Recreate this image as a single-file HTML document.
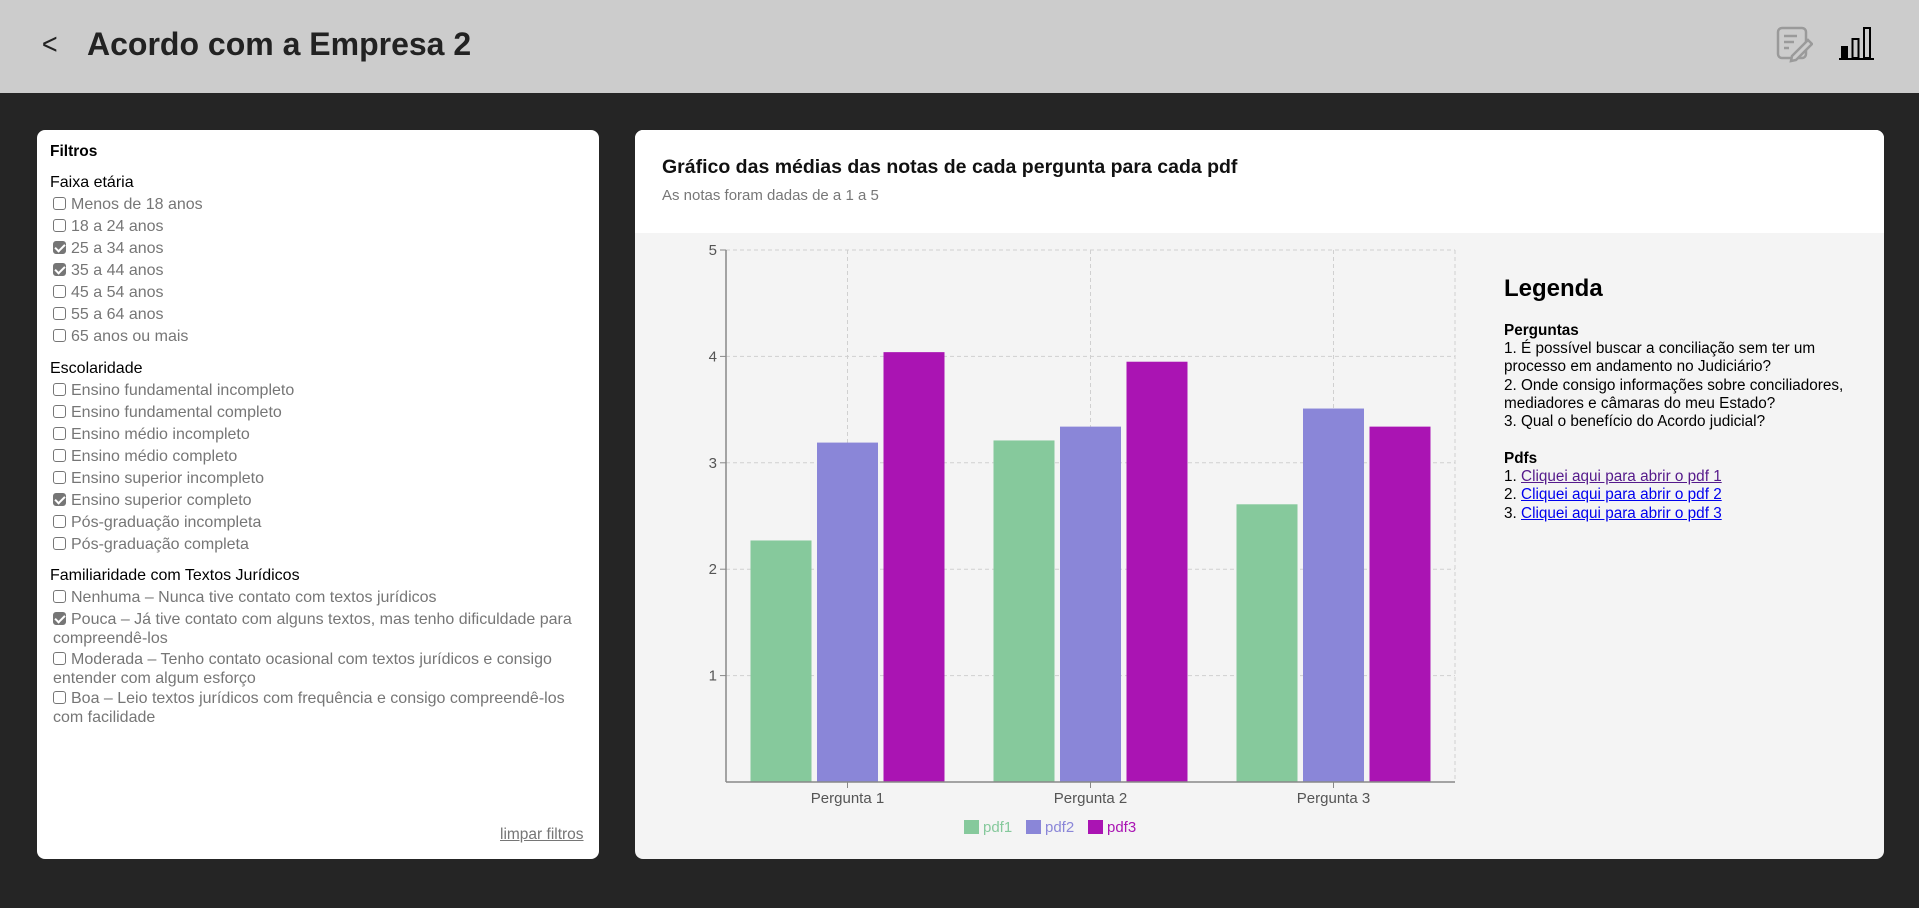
<!DOCTYPE html>
<html><head><meta charset="utf-8">
<style>
*{box-sizing:border-box;margin:0;padding:0}
body{width:1919px;height:908px;background:#252525;font-family:"Liberation Sans",Arial,sans-serif;position:relative;overflow:hidden}
.hdr{position:absolute;left:0;top:0;width:1919px;height:93px;background:#cccccc}
.abs{position:absolute;white-space:nowrap}
.panel{position:absolute;background:#fff;border-radius:8px;overflow:hidden}
.opt{position:absolute;left:53px;font-size:16px;color:#767676;line-height:20px;white-space:nowrap}
.opt .cb{display:inline-block;width:13px;height:13px;border:1px solid #767676;border-radius:3px;vertical-align:-1px;margin-right:5px;background:#fff;position:relative}
.opt .cb.on{background:#767676}
.opt .cb.on:after{content:"";position:absolute;left:3px;top:0px;width:4px;height:8px;border:solid #fff;border-width:0 2px 2px 0;transform:rotate(45deg)}
.grp{position:absolute;left:50px;font-size:16px;color:#000}
.leg{position:absolute;left:1504px;font-size:15.3px;line-height:18.2px;color:#000}
.leg a{color:#0000ee;text-decoration:underline}
</style></head><body>
<div class="hdr">
  <div class="abs" style="left:41px;top:28px;font-size:30px;color:#222;font-weight:300;transform:scaleX(0.9)">&lt;</div>
  <div class="abs" style="left:87px;top:26px;font-size:32px;font-weight:bold;color:#222;">Acordo com a Empresa 2</div>
  <svg class="abs" style="left:1775px;top:25px" width="38" height="38" viewBox="0 0 38 38">
    <rect x="3" y="3" width="28" height="30" rx="4" fill="none" stroke="#9a9a9a" stroke-width="2.5"/>
    <line x1="9" y1="11" x2="22" y2="11" stroke="#9a9a9a" stroke-width="2.5"/>
    <line x1="9" y1="17" x2="19" y2="17" stroke="#9a9a9a" stroke-width="2.5"/>
    <line x1="9" y1="23" x2="14" y2="23" stroke="#9a9a9a" stroke-width="2.5"/>
    <path d="M17 31 L33 15 L37 19 L21 35 L16 36 Z" fill="#cccccc" stroke="#9a9a9a" stroke-width="2.5"/>
  </svg>
  <svg class="abs" style="left:1839px;top:26px" width="36" height="36" viewBox="0 0 36 36">
    <rect x="2" y="20" width="7" height="12" fill="#000"/>
    <rect x="13.5" y="13" width="6" height="19" fill="none" stroke="#000" stroke-width="2"/>
    <rect x="25" y="2" width="6" height="30" fill="none" stroke="#000" stroke-width="2"/>
    <line x1="0" y1="33" x2="35" y2="33" stroke="#000" stroke-width="2"/>
  </svg>
</div>

<div class="panel" style="left:37px;top:130px;width:562px;height:729px;">
</div>
<div class="abs" style="left:50px;top:143px;font-size:15.5px;font-weight:bold;">Filtros</div>
<div class="grp" style="top:174px">Faixa etária</div>
<div class="opt" style="top:195px"><span class="cb"></span>Menos de 18 anos</div>
<div class="opt" style="top:217px"><span class="cb"></span>18 a 24 anos</div>
<div class="opt" style="top:239px"><span class="cb on"></span>25 a 34 anos</div>
<div class="opt" style="top:261px"><span class="cb on"></span>35 a 44 anos</div>
<div class="opt" style="top:283px"><span class="cb"></span>45 a 54 anos</div>
<div class="opt" style="top:305px"><span class="cb"></span>55 a 64 anos</div>
<div class="opt" style="top:327px"><span class="cb"></span>65 anos ou mais</div>
<div class="grp" style="top:360px">Escolaridade</div>
<div class="opt" style="top:381px"><span class="cb"></span>Ensino fundamental incompleto</div>
<div class="opt" style="top:403px"><span class="cb"></span>Ensino fundamental completo</div>
<div class="opt" style="top:425px"><span class="cb"></span>Ensino médio incompleto</div>
<div class="opt" style="top:447px"><span class="cb"></span>Ensino médio completo</div>
<div class="opt" style="top:469px"><span class="cb"></span>Ensino superior incompleto</div>
<div class="opt" style="top:491px"><span class="cb on"></span>Ensino superior completo</div>
<div class="opt" style="top:513px"><span class="cb"></span>Pós-graduação incompleta</div>
<div class="opt" style="top:535px"><span class="cb"></span>Pós-graduação completa</div>
<div class="grp" style="top:567px">Familiaridade com Textos Jurídicos</div>
<div class="opt" style="top:588px"><span class="cb"></span>Nenhuma – Nunca tive contato com textos jurídicos</div>
<div class="opt" style="top:610px;white-space:normal;width:530px;line-height:19px"><span class="cb on"></span>Pouca – Já tive contato com alguns textos, mas tenho dificuldade para compreendê-los</div>
<div class="opt" style="top:650px;white-space:normal;width:530px;line-height:19px"><span class="cb"></span>Moderada – Tenho contato ocasional com textos jurídicos e consigo entender com algum esforço</div>
<div class="opt" style="top:689px;white-space:normal;width:530px;line-height:19px"><span class="cb"></span>Boa – Leio textos jurídicos com frequência e consigo compreendê-los com facilidade</div>
<div class="abs" style="left:500px;top:826px;font-size:15.5px;color:#767676;text-decoration:underline">limpar filtros</div>

<div class="panel" style="left:635px;top:130px;width:1249px;height:729px;background:#f4f4f4;">
  <div style="position:absolute;left:0;top:0;width:100%;height:103px;background:#fff"></div>
</div>
<div class="abs" style="left:662px;top:156px;font-size:19.5px;font-weight:bold;color:#111">Gráfico das médias das notas de cada pergunta para cada pdf</div>
<div class="abs" style="left:662px;top:187px;font-size:15px;color:#777">As notas foram dadas de a 1 a 5</div>

<svg id="chart" class="abs" style="left:0;top:0" width="1919" height="908"></svg>

<div class="abs" style="left:1504px;top:275px;font-size:24px;font-weight:bold;">Legenda</div>
<div class="leg" style="top:322px;width:370px">
<b>Perguntas</b><br>
1. É possível buscar a conciliação sem ter um processo em andamento no Judiciário?<br>
2. Onde consigo informações sobre conciliadores, mediadores e câmaras do meu Estado?<br>
3. Qual o benefício do Acordo judicial?
</div>
<div class="leg" style="top:450px">
<b>Pdfs</b><br>
1. <a style="color:#551a8b">Cliquei aqui para abrir o pdf 1</a><br>
2. <a>Cliquei aqui para abrir o pdf 2</a><br>
3. <a>Cliquei aqui para abrir o pdf 3</a>
</div>

<script>
const categories = ["Pergunta 1","Pergunta 2","Pergunta 3"];
const seriesNames = ["pdf1","pdf2","pdf3"];
const pdf1 = [2.27, 3.21, 2.61];
const pdf2 = [3.19, 3.34, 3.51];
const pdf3 = [4.04, 3.95, 3.34];
const yTicks = [1,2,3,4,5];

const colors = ["#86c99c","#8a86d8","#aa14b3"];
const series = [pdf1, pdf2, pdf3];
const NS = "http://www.w3.org/2000/svg";
const svg = document.getElementById("chart");
const X0 = 726, X1 = 1455, Y0 = 782, Y1 = 250, YMAX = 5;
const band = (X1 - X0) / categories.length;
function y(v){ return Y0 - (v / YMAX) * (Y0 - Y1); }
function xc(i){ return X0 + band * (i + 0.5); }
function mk(tag, attrs){ const e = document.createElementNS(NS, tag); for (const k in attrs) e.setAttribute(k, attrs[k]); svg.appendChild(e); return e; }

yTicks.forEach(t => {
  const g = mk("line", {x1:X0, x2:X1, y1:y(t), y2:y(t), stroke:"#d0d0d0", "stroke-dasharray":"4 3"});
  
  
});
categories.forEach((c, i) => {
  const g = mk("line", {x1:xc(i), x2:xc(i), y1:Y1, y2:Y0, stroke:"#d0d0d0", "stroke-dasharray":"4 3"});
  
  
});
const rg = mk("line", {x1:X1, x2:X1, y1:Y1, y2:Y0, stroke:"#d0d0d0", "stroke-dasharray":"4 3"});



const bw = 61, step = 66.5;
series.forEach((vals, s) => {
  vals.forEach((v, i) => {
    const bx = xc(i) + (s - 1) * step - bw / 2;
    const r = mk("rect", {x:bx, y:y(v), width:bw, height:Y0 - y(v), fill:colors[s]});
    
    
  });
});

const ya = mk("line", {x1:X0, x2:X0, y1:Y1, y2:Y0, stroke:"#888", "stroke-width":1.5});


const xa = mk("line", {x1:X0, x2:X1, y1:Y0, y2:Y0, stroke:"#888", "stroke-width":1.5});


yTicks.forEach(t => {
  const tk = mk("line", {x1:X0 - 6, x2:X0, y1:y(t), y2:y(t), stroke:"#888"});
  
  
  const tl = mk("text", {x:X0 - 9, y:y(t) + 5, "text-anchor":"end", "font-size":15, fill:"#555", "font-family":"Liberation Sans, sans-serif"});
  tl.textContent = t;
  
  
});
categories.forEach((c, i) => {
  const tk = mk("line", {x1:xc(i), x2:xc(i), y1:Y0, y2:Y0 + 6, stroke:"#888"});
  
  
  const tl = mk("text", {x:xc(i), y:Y0 + 21, "text-anchor":"middle", "font-size":15, fill:"#555", "font-family":"Liberation Sans, sans-serif"});
  tl.textContent = c;
  
  
});

const lx = [964, 1026, 1088];
seriesNames.forEach((n, s) => {
  const sq = mk("rect", {x:lx[s], y:820, width:15, height:14, fill:colors[s]});
  
  
  const t = mk("text", {x:lx[s] + 19, y:832, "font-size":15, fill:colors[s], "font-family":"Liberation Sans, sans-serif"});
  t.textContent = n;
  
  
});
</script>
</body></html>
